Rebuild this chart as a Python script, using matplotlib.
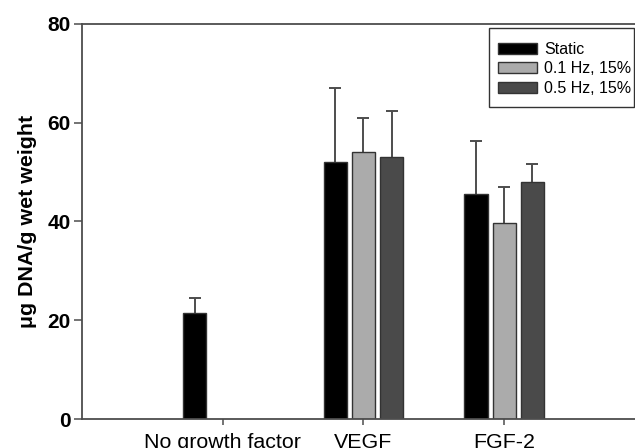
import numpy as np
import matplotlib
import matplotlib.pyplot as plt
from matplotlib.patches import Rectangle

matplotlib.use("Agg")

plt.rcParams["font.family"] = ["Liberation Sans", "DejaVu Sans"]

groups = ["No growth factor", "VEGF", "FGF-2"]
series = ["Static", "0.1 Hz, 15%", "0.5 Hz, 15%"]
static = [21.4, 52.1, 45.5]
static_err = [3.2, 15.0, 10.9]
hz01 = [np.nan, 54.0, 39.6]
hz01_err = [np.nan, 6.9, 7.4]
hz05 = [np.nan, 53.1, 48.1]
hz05_err = [np.nan, 9.3, 3.6]

colors = ["#000000", "#ababab", "#4a4a4a"]
spine_c = "#4d4d4d"

W, H = 635, 448
fig = plt.figure(figsize=(W / 100, H / 100), dpi=100)
ax = fig.add_axes([82 / W, 29 / H, (W - 82) / W, 395 / H])

x = np.arange(len(groups))
width = 0.165
offsets = [-0.2, 0.0, 0.2]
for vals, errs, off, col, name in zip([static, hz01, hz05], [static_err, hz01_err, hz05_err],
                                      offsets, colors, series):
    vals = np.array(vals, dtype=float)
    errs = np.array(errs, dtype=float)
    ax.bar(x + off, vals, width, color=col, edgecolor="#333333", linewidth=1.0,
           label=name, zorder=2)
    eb = ax.errorbar(x + off, vals, yerr=[np.zeros_like(errs), errs], fmt="none",
                     ecolor=spine_c, elinewidth=1.4, capsize=4, capthick=1.4, zorder=1)
    # only the upper cap is shown
    eb[1][0].set_visible(False)

ax.set_xlim(-1.0, 2.93)
ax.set_ylim(0, 80)
ax.set_yticks([0, 20, 40, 60, 80])
ax.set_xticks(x)
ax.set_xticklabels(groups, fontsize=15.4)
for lbl in ax.get_yticklabels():
    lbl.set_fontsize(15)
    lbl.set_fontweight("bold")
ax.tick_params(axis="y", length=6, width=1.1, color=spine_c, pad=2)
ax.tick_params(axis="x", length=4, width=1.1, color=spine_c, pad=6)
ax.set_ylabel("μg DNA/g wet weight", fontsize=15.4, fontweight="bold", labelpad=8)

for side in ["left", "top", "bottom"]:
    ax.spines[side].set_color(spine_c)
    ax.spines[side].set_linewidth(1.3)
ax.spines["right"].set_visible(False)

# legend without its own frame, box drawn separately (reference pads it unevenly)
ax.legend(loc="upper left", bbox_to_anchor=(498 / W, 1 - 42 / H),
          bbox_transform=fig.transFigure, fontsize=11.5, frameon=False,
          handlelength=2.45, handleheight=0.7, handletextpad=0.45,
          labelspacing=0.28, borderpad=0, borderaxespad=0)
fig.patches.append(Rectangle((489 / W, 1 - 107 / H), 145 / W, 79 / H,
                             transform=fig.transFigure, fill=False,
                             edgecolor="#333333", linewidth=1.0))

fig.savefig("out.png", dpi=100)
plt.close(fig)
